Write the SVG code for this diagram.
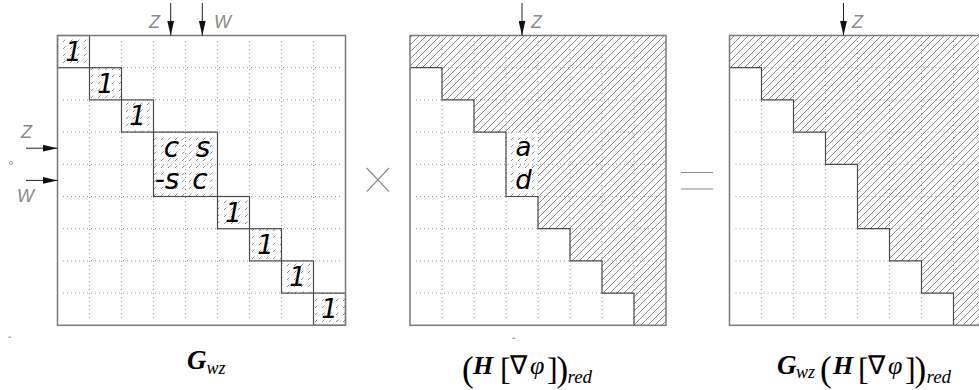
<svg xmlns="http://www.w3.org/2000/svg" width="979" height="390" viewBox="0 0 979 390">
<style>
.border{fill:none;stroke:#7a7a7a;stroke-width:1.5}
.blk{fill:none;stroke:#4a4a4a;stroke-width:1.2}
.grid{stroke:#9a9a9a;stroke-width:1;stroke-dasharray:1 3;fill:none}
.cell{font-family:"DejaVu Sans",sans-serif;font-style:oblique;font-size:26px;fill:#000;text-anchor:middle}
.big{font-size:28px}
.lbl{font-family:"Liberation Sans",Arial,sans-serif;font-style:italic;font-size:18px;fill:#8a8a8a}
.arr{stroke:#222;stroke-width:1;fill:none}
.op{stroke:#8a8a8a;stroke-width:1.2;fill:none}
.math{font-family:"Liberation Serif","Times New Roman",serif;fill:#000}
.mark{font-family:"Liberation Sans",sans-serif;font-size:10px;fill:#777}
</style>
<defs>
<pattern id="hatch" patternUnits="userSpaceOnUse" width="7" height="7">
<path d="M-1,1 l2,-2 M0,7 l7,-7 M6,8 l2,-2" stroke="#6a6a6a" stroke-width="0.8"/>
</pattern>
<pattern id="sparse" patternUnits="userSpaceOnUse" width="7" height="7">
<path d="M0,7 l7,-7" stroke="#808080" stroke-width="0.9" stroke-dasharray="3.5 6.4"/>
</pattern>
<marker id="ah" viewBox="0 0 15 7" refX="15" refY="3.5" markerWidth="15" markerHeight="7" markerUnits="userSpaceOnUse" orient="auto">
<path d="M0,0 L15,3.5 L0,7 Z" fill="#111"/>
</marker>
</defs>
<rect width="979" height="390" fill="#fff"/>

<!-- Left matrix G_wz -->
<g id="matrix-G">
<g class="grid">
<path d="M63,67.7H340M63,99.9H340M63,132.1H340M63,164.3H340M63,196.5H340M63,228.7H340M63,260.9H340M63,293.1H340"/>
<path d="M89.5,41V320M121.5,41V320M153.5,41V320M185.5,41V320M217.5,41V320M249.5,41V320M281.5,41V320M313.5,41V320"/>
</g>
<g fill="url(#sparse)">
<rect x="57.5" y="35.5" width="32" height="32.2"/>
<rect x="89.5" y="67.7" width="32" height="32.2"/>
<rect x="121.5" y="99.9" width="32" height="32.2"/>
<rect x="153.5" y="132.1" width="64" height="64.4"/>
<rect x="217.5" y="196.5" width="32" height="32.2"/>
<rect x="249.5" y="228.7" width="32" height="32.2"/>
<rect x="281.5" y="260.9" width="32" height="32.2"/>
<rect x="313.5" y="293.1" width="32" height="32.2"/>
</g>
<g class="blk">
<rect x="57.5" y="35.5" width="32" height="32.2"/>
<rect x="89.5" y="67.7" width="32" height="32.2"/>
<rect x="121.5" y="99.9" width="32" height="32.2"/>
<rect x="153.5" y="132.1" width="64" height="64.4"/>
<rect x="217.5" y="196.5" width="32" height="32.2"/>
<rect x="249.5" y="228.7" width="32" height="32.2"/>
<rect x="281.5" y="260.9" width="32" height="32.2"/>
<rect x="313.5" y="293.1" width="32" height="32.2"/>
</g>
<rect class="border" x="57.5" y="35.5" width="288" height="289.8"/>
<text class="cell" x="73.5" y="60.5">1</text>
<text class="cell" x="105.5" y="92.7">1</text>
<text class="cell" x="137.5" y="124.9">1</text>
<text class="cell big" x="171.5" y="157">c</text>
<text class="cell big" x="203" y="157">s</text>
<text class="cell big" x="167" y="189">-s</text>
<text class="cell big" x="200" y="189">c</text>
<text class="cell" x="233.5" y="221.5">1</text>
<text class="cell" x="265.5" y="253.7">1</text>
<text class="cell" x="297.5" y="285.9">1</text>
<text class="cell" x="329.5" y="318.1">1</text>
</g>

<!-- Middle matrix (H[grad phi])_red -->
<g id="matrix-H">
<g class="grid">
<path d="M416,67.7H661M416,99.9H661M416,132.1H661M416,164.3H661M416,196.5H661M416,228.7H661M416,260.9H661M416,293.1H661"/>
<path d="M442,41V320M474,41V320M506,41V320M538,41V320M570,41V320M602,41V320M634,41V320"/>
</g>
<path fill="url(#hatch)" d="M410,35.5H666V325.3H634V293.1H602V260.9H570V228.7H538V132.1H474V99.9H442V67.7H410Z"/>
<rect x="506" y="132.1" width="32" height="64.4" fill="url(#sparse)"/>
<path class="blk" d="M410,67.7H442V99.9H474V132.1H506V196.5H538V228.7H570V260.9H602V293.1H634V325.3"/>
<rect class="border" x="410" y="35.5" width="256" height="289.8"/>
<text class="cell" x="523.5" y="156" font-size="30">a</text>
<text class="cell" x="523.5" y="189" font-size="30">d</text>
</g>

<!-- Right matrix G_wz (H[grad phi])_red -->
<g id="matrix-GH">
<g class="grid">
<path d="M735.5,67.7H985M735.5,99.9H985M735.5,132.1H985M735.5,164.3H985M735.5,196.5H985M735.5,228.7H985M735.5,260.9H985M735.5,293.1H985"/>
<path d="M761.5,41V320M793.5,41V320M825.5,41V320M857.5,41V320M889.5,41V320M921.5,41V320M953.5,41V320"/>
</g>
<path fill="url(#hatch)" d="M729.5,35.5H985.5V325.3H953.5V293.1H921.5V260.9H889.5V228.7H857.5V164.3H825.5V132.1H793.5V99.9H761.5V67.7H729.5Z"/>
<path class="blk" d="M729.5,67.7H761.5V99.9H793.5V132.1H825.5V164.3H857.5V228.7H889.5V260.9H921.5V293.1H953.5V325.3"/>
<rect class="border" x="729.5" y="35.5" width="256" height="289.8"/>
</g>

<!-- Operators -->
<g id="op-times">
<path class="op" d="M366.7,168L389,191.7M389,168L366.7,191.7"/>
</g>
<g id="op-equals">
<path class="op" d="M681,172.5H713M681,189H713"/>
</g>

<!-- Arrows -->
<g id="connectors">
<path class="arr" d="M170.7,3V35.5" marker-end="url(#ah)"/>
<path class="arr" d="M202.3,3V35.5" marker-end="url(#ah)"/>
<path class="arr" d="M26,148.2H57.5" marker-end="url(#ah)"/>
<path class="arr" d="M26,180.4H57.5" marker-end="url(#ah)"/>
<path class="arr" d="M522,3V35.5" marker-end="url(#ah)"/>
<path class="arr" d="M843.5,3V35.5" marker-end="url(#ah)"/>
</g>

<!-- Index labels -->
<g id="index-labels">
<text class="lbl" x="149" y="28">Z</text>
<text class="lbl" x="214" y="28">W</text>
<text class="lbl" x="21" y="138">Z</text>
<text class="lbl" x="17" y="202">W</text>
<text class="lbl" x="531" y="28">Z</text>
<text class="lbl" x="852" y="28">Z</text>
<circle cx="11" cy="163" r="1.6" fill="none" stroke="#888" stroke-width="0.8"/>
<text class="mark" x="8" y="345">ˆ</text>
<text class="mark" x="512" y="346">ˆ</text>
</g>

<!-- Captions -->
<g id="caption-G">
<text class="math" y="369"><tspan x="187" font-size="27" font-weight="bold" font-style="italic">G</tspan><tspan x="206.5" y="373.5" font-size="18" font-style="italic">wz</tspan></text>
</g>
<g id="caption-H">
<text class="math" y="373.5" font-size="26"><tspan x="462" y="381" font-size="35">(</tspan><tspan x="473" y="373.5" font-weight="bold" font-style="italic">H</tspan><tspan x="500" y="379.5" font-size="32">[</tspan><tspan x="510" y="373.5">∇</tspan><tspan x="530" font-style="italic">φ</tspan><tspan x="547" y="379.5" font-size="32">]</tspan><tspan x="556.5" y="381" font-size="35">)</tspan><tspan x="567.5" y="383" font-size="19" font-style="italic">red</tspan></text>
</g>
<g id="caption-GH">
<text class="math" y="373.5" font-size="26"><tspan x="777" font-size="27" font-weight="bold" font-style="italic">G</tspan><tspan x="796" y="378" font-size="18" font-style="italic">wz</tspan><tspan x="820" y="381" font-size="35">(</tspan><tspan x="833" y="373.5" font-weight="bold" font-style="italic">H</tspan><tspan x="858" y="379.5" font-size="32">[</tspan><tspan x="868" y="373.5">∇</tspan><tspan x="888" font-style="italic">φ</tspan><tspan x="905" y="379.5" font-size="32">]</tspan><tspan x="914.5" y="381" font-size="35">)</tspan><tspan x="926.5" y="383" font-size="19" font-style="italic">red</tspan></text>
</g>
</svg>
